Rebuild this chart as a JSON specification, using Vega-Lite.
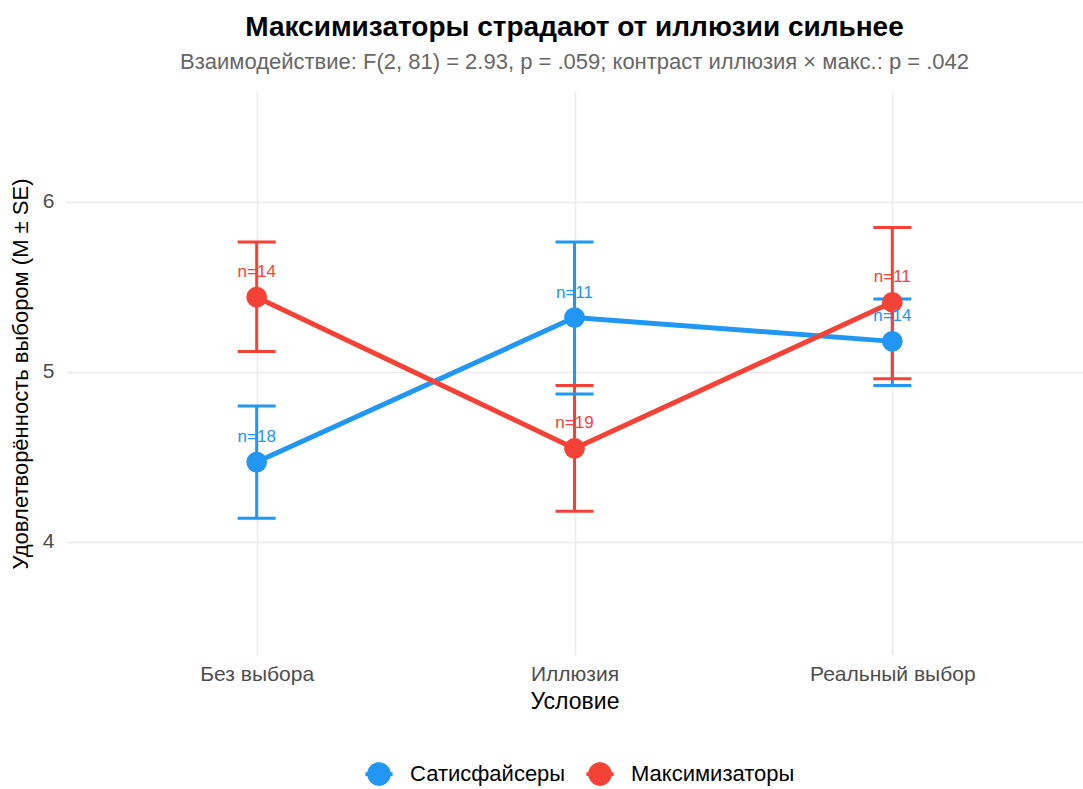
{
  "$schema": "https://vega.github.io/schema/vega-lite/v6.json",
  "width": 1017,
  "height": 563,
  "autosize": {"type": "none"},
  "padding": {"left": 66, "top": 92, "right": 0, "bottom": 134},
  "background": "white",
  "config": {
    "font": "Liberation Sans",
    "view": {"stroke": null},
    "axis": {"domain": false, "ticks": false, "gridColor": "#ebebeb", "gridWidth": 1.6, "labelColor": "#4d4d4d", "labelFontSize": 21, "titleFontSize": 23, "titleFontWeight": "normal", "titleColor": "#000000", "labelFont": "Liberation Sans", "titleFont": "Liberation Sans"}
  },
  "title": {
    "text": "Максимизаторы страдают от иллюзии сильнее",
    "subtitle": "Взаимодействие: F(2, 81) = 2.93, p = .059; контраст иллюзия × макс.: p = .042",
    "anchor": "middle",
    "frame": "group",
    "fontSize": 28,
    "fontWeight": "bold",
    "color": "#000000",
    "subtitleFontSize": 22,
    "subtitleColor": "#666666",
    "subtitlePadding": 10,
    "offset": 19
  },
  "data": {
    "values": [
      {"cond": "Без выбора", "group": "Сатисфайсеры", "mean": 4.47, "lo": 4.14, "hi": 4.80, "n": "n=18"},
      {"cond": "Иллюзия", "group": "Сатисфайсеры", "mean": 5.32, "lo": 4.87, "hi": 5.765, "n": "n=11"},
      {"cond": "Реальный выбор", "group": "Сатисфайсеры", "mean": 5.18, "lo": 4.92, "hi": 5.43, "n": "n=14"},
      {"cond": "Без выбора", "group": "Максимизаторы", "mean": 5.44, "lo": 5.12, "hi": 5.765, "n": "n=14"},
      {"cond": "Иллюзия", "group": "Максимизаторы", "mean": 4.55, "lo": 4.18, "hi": 4.92, "n": "n=19"},
      {"cond": "Реальный выбор", "group": "Максимизаторы", "mean": 5.41, "lo": 4.96, "hi": 5.85, "n": "n=11"}
    ]
  },
  "encoding": {
    "x": {"field": "cond", "type": "nominal", "sort": ["Без выбора", "Иллюзия", "Реальный выбор"], "scale": {"type": "point", "padding": 0.6}, "axis": {"title": "Условие", "labelAngle": 0, "labelPadding": 8, "titlePadding": 6, "grid": true}},
    "color": {"field": "group", "type": "nominal", "sort": ["Сатисфайсеры", "Максимизаторы"], "scale": {"domain": ["Сатисфайсеры", "Максимизаторы"], "range": ["#2196F3", "#F44336"]},
      "legend": {"title": null, "orient": "none", "direction": "horizontal", "legendX": 301, "legendY": 670, "symbolType": "M -1.15 -0.16 H 1.15 V 0.16 H -1.15 Z M 1 0 A 1 1 0 1 1 -1 0 A 1 1 0 1 1 1 0 Z", "symbolSize": 560, "symbolOpacity": 1, "labelFontSize": 22, "labelLimit": 400, "labelColor": "#000000", "columnPadding": 20, "symbolStrokeWidth": 0, "labelOffset": 19}}
  },
  "layer": [
    {"mark": {"type": "rule", "strokeWidth": 3}, "encoding": {"y": {"field": "lo", "type": "quantitative"}, "y2": {"field": "hi"}}},
    {"mark": {"type": "tick", "thickness": 3, "size": 38, "opacity": 1}, "encoding": {"y": {"field": "lo", "type": "quantitative"}}},
    {"mark": {"type": "tick", "thickness": 3, "size": 38, "opacity": 1}, "encoding": {"y": {"field": "hi", "type": "quantitative"}}},
    {"mark": {"type": "line", "strokeWidth": 5}, "encoding": {"y": {"field": "mean", "type": "quantitative"}, "detail": {"field": "group"}}},
    {"mark": {"type": "point", "filled": true, "size": 430, "opacity": 1}, "encoding": {"y": {"field": "mean", "type": "quantitative", "scale": {"domain": [3.335, 6.647], "zero": false, "nice": false}, "axis": {"title": "Удовлетворённость выбором (M ± SE)", "titleFontSize": 22, "values": [4, 5, 6], "format": "d", "labelPadding": 12, "titlePadding": 10}}}},
    {"mark": {"type": "text", "fontSize": 17, "dy": -25}, "encoding": {"y": {"field": "mean", "type": "quantitative"}, "text": {"field": "n"}}}
  ]
}
